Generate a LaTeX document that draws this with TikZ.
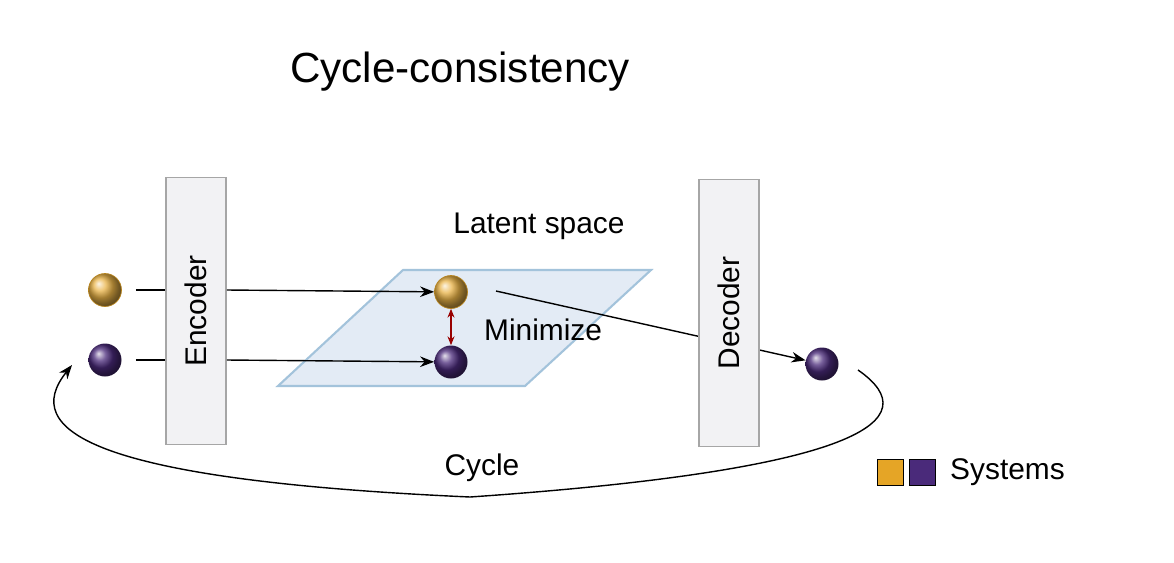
\documentclass[tikz,border=0pt]{standalone}
\usepackage{fontspec}
\setmainfont{Liberation Sans}
\usetikzlibrary{arrows.meta}
\definecolor{sysorange}{HTML}{E5A526}
\definecolor{syspurple}{HTML}{4A2A7A}
\definecolor{boxgray}{HTML}{F2F2F4}
\definecolor{planeblue}{HTML}{E3EBF5}
\definecolor{planeedge}{HTML}{A3C3DB}
\tikzset{
	box/.style={draw=black!35, fill=boxgray, line width=1pt, minimum width=60*0.02cm, minimum height=267*0.02cm, inner sep=0pt},
	lbl/.style={font=\fontsize{17}{20}\selectfont},
	ballo/.style={circle, minimum size=33*0.02cm, inner sep=0pt, shading=ball, ball color=sysorange!85!white, draw=sysorange!80!black, line width=0.4pt},
	ballp/.style={circle, minimum size=33*0.02cm, inner sep=0pt, shading=ball, ball color=syspurple},
	flow/.style={-{Stealth[length=8pt,width=6pt]}, line width=0.8pt},
}
\begin{document}
\begin{tikzpicture}[x=0.02cm, y=-0.02cm]
	\useasboundingbox (0,0) rectangle (1174,562);
	\node[font=\fontsize{24}{28}\selectfont] (title) at (460,72) {Cycle-consistency};
	
	% latent plane
	\draw[fill=planeblue, draw=planeedge, line width=1.2pt] (403,270) -- (651,270) -- (525,386) -- (278,386) -- cycle;
	\node[lbl] (latent) at (539,226) {Latent space};
	
	\node[ballo] (in1) at (105,290) {};
	\node[ballp] (in2) at (105,360) {};
	\node[ballo] (z1) at (451,292) {};
	\node[ballp] (z2) at (451,362) {};
	\node[ballp] (out) at (822,364) {};
	
	% line to decoder passes behind the box
	\draw[flow] (496,291) coordinate (s) -- (out);
	\node[box] (enc) at (196,311) {};
	\node[box] (dec) at (729,313) {};
	\node[lbl, rotate=90] at (enc) {Encoder};
	\node[lbl, rotate=90] at (dec) {Decoder};
	
	\draw[line width=0.8pt] (in1.east) ++(14,0) -- (enc.west |- in1);
	\draw[line width=0.8pt] (in2.east) ++(14,0) -- (enc.west |- in2);
	\draw[flow] (enc.east |- in1) -- (z1);
	\draw[flow] (enc.east |- in2) -- (z2);
	
	\draw[{Stealth[length=5pt,width=4pt]}-{Stealth[length=5pt,width=4pt]}, red!60!black, line width=0.8pt] (z1) -- (z2);
	\node[lbl, anchor=west] (min) at (478,330) {Minimize};
	
	% cycle
	\coordinate (c0) at (858,370);
	\coordinate (c1) at (72,365);
	\draw[flow] (c0) .. controls (930,420) and (860,470) .. (470,497) .. controls (90,480) and (20,430) .. (c1);
	\node[lbl] (cycle) at (482,468) {Cycle};
	
	% legend
	\node[draw=black, fill=sysorange, minimum size=26*0.02cm, inner sep=0pt] (lo) at (890,472) {};
	\node[draw=black, fill=syspurple, minimum size=26*0.02cm, inner sep=0pt] (lp) at (922,472) {};
	\node[lbl, anchor=west] (sys) at (944,472) {Systems};
\end{tikzpicture}
\end{document}
